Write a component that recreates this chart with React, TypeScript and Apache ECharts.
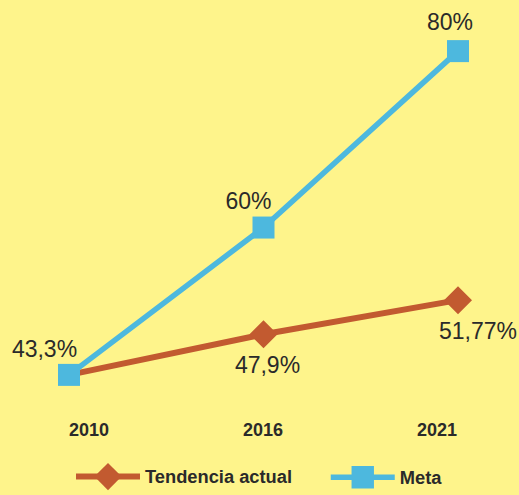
import React, { useEffect, useRef } from "react";
import * as echarts from "echarts";

const years = ["2010", "2016", "2021"];
const tendencia = [43.3, 47.9, 51.77];
const meta = [43.3, 60, 80];
const tendenciaLabels = ["", "47,9%", "51,77%"];
const metaLabels = ["43,3%", "60%", "80%"];
const tendenciaOffsets = [[0, 0], [4, 31], [20, 31]];
const metaOffsets = [[-24.5, -25.5], [-15, -26.5], [-8, -29]];

const BG = "#FEF48B";
const ORANGE = "#C25A30";
const BLUE = "#4DB8DE";
const TEXT = "#2a2a2a";

export default function App() {
  const ref = useRef<HTMLDivElement>(null);
  useEffect(() => {
    if (!ref.current) return;
    const chart = echarts.init(ref.current, undefined, { renderer: "svg" });
    const labelFont = {
      fontFamily: "Liberation Sans, Arial, sans-serif",
      fontSize: 23,
      color: TEXT,
    };
    const legendText = {
      fontFamily: "Liberation Sans, Arial, sans-serif",
      fontWeight: "bold",
      fontSize: 18.3,
      color: TEXT,
    };
    chart.setOption({
      animation: false,
      backgroundColor: BG,
      grid: [
        { left: 69, right: 61, top: 7, bottom: 91 },
        { left: 89, right: 82, top: 400, height: 13 },
      ],
      xAxis: [
        {
          type: "category",
          data: years,
          gridIndex: 0,
          boundaryGap: false,
          axisLine: { show: false },
          axisTick: { show: false },
          axisLabel: { show: false },
          splitLine: { show: false },
        },
        {
          type: "category",
          data: years,
          gridIndex: 1,
          boundaryGap: false,
          axisLine: { show: false },
          axisTick: { show: false },
          splitLine: { show: false },
          axisLabel: {
            margin: 8,
            fontFamily: "Liberation Sans, Arial, sans-serif",
            fontWeight: "bold",
            fontSize: 18,
            color: TEXT,
          },
        },
      ],
      yAxis: [
        {
          type: "value",
          gridIndex: 0,
          min: 40,
          max: 85,
          show: false,
          splitLine: { show: false },
        },
        { type: "value", gridIndex: 1, show: false },
      ],
      legend: [
        {
          data: ["Tendencia actual"],
          left: 73,
          top: 463,
          padding: 0,
          itemWidth: 64,
          itemHeight: 34,
          lineStyle: { width: 6 },
          textStyle: legendText,
        },
        {
          data: ["Meta"],
          left: 328,
          top: 466,
          padding: 0,
          itemWidth: 64,
          itemHeight: 28,
          lineStyle: { width: 5.5 },
          textStyle: legendText,
        },
      ],
      series: [
        {
          name: "Tendencia actual",
          type: "line",
          xAxisIndex: 0,
          yAxisIndex: 0,
          symbol: "diamond",
          symbolSize: 28,
          lineStyle: { color: ORANGE, width: 6 },
          itemStyle: { color: ORANGE },
          data: tendencia.map((v, i) => ({
            value: v,
            symbolSize: i === 0 ? 0 : 28,
            label: {
              show: tendenciaLabels[i] !== "",
              position: "inside",
              offset: tendenciaOffsets[i],
              formatter: tendenciaLabels[i],
              ...labelFont,
            },
          })),
          z: 2,
        },
        {
          name: "Meta",
          type: "line",
          xAxisIndex: 0,
          yAxisIndex: 0,
          symbol: "rect",
          symbolSize: 22,
          lineStyle: { color: BLUE, width: 5.5 },
          itemStyle: { color: BLUE },
          data: meta.map((v, i) => ({
            value: v,
            label: {
              show: true,
              position: "inside",
              offset: metaOffsets[i],
              formatter: metaLabels[i],
              ...labelFont,
            },
          })),
          z: 3,
        },
      ],
    });
    return () => chart.dispose();
  }, []);
  return (
    <div
      ref={ref}
      style={{ position: "absolute", left: 0, top: 0, width: 519, height: 495 }}
    />
  );
}
